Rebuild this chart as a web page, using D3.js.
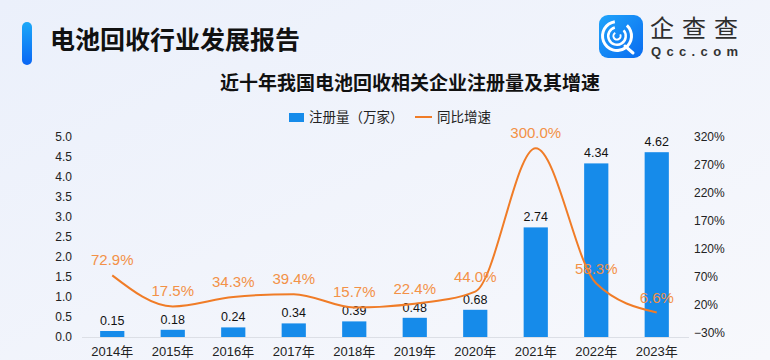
<!DOCTYPE html>
<html>
<head>
<meta charset="utf-8">
<script src="https://cdn.jsdelivr.net/npm/d3@7"></script>
<style>
  html, body { margin: 0; padding: 0; }
  body { width: 770px; height: 360px; overflow: hidden; }
  text { font-family: "Liberation Sans", "Noto Sans CJK SC", sans-serif; }
  .cjk { font-family: "Noto Sans CJK SC", sans-serif; }
</style>
</head>
<body>
<div id="chart"></div>
<script>
/********************* data *********************/
var years = ["2014年", "2015年", "2016年", "2017年", "2018年", "2019年", "2020年", "2021年", "2022年", "2023年"];
var regCount = [0.15, 0.18, 0.24, 0.34, 0.39, 0.48, 0.68, 2.74, 4.34, 4.62];   // 万家
var growth = [72.9, 17.5, 34.3, 39.4, 15.7, 22.4, 44.0, 300.0, 58.3, 6.6];      // %
var leftTicks = [0, 0.5, 1, 1.5, 2, 2.5, 3, 3.5, 4, 4.5, 5];
var rightTicks = [-30, 20, 70, 120, 170, 220, 270, 320];

var W = 770, H = 360;

var svg = d3.select("#chart").append("svg")
    .attr("width", W)
    .attr("height", H);

var defs = svg.append("defs");

var bg = defs.append("linearGradient").attr("id", "bg")
    .attr("x1", "0").attr("y1", "0").attr("x2", "1").attr("y2", "1");
bg.append("stop").attr("offset", "0").attr("stop-color", "#ebf0fb");
bg.append("stop").attr("offset", "1").attr("stop-color", "#f7f8fc");

var pill = defs.append("linearGradient").attr("id", "pill")
    .attr("x1", "0").attr("y1", "0").attr("x2", "0").attr("y2", "1");
pill.append("stop").attr("offset", "0").attr("stop-color", "#1ca8f8");
pill.append("stop").attr("offset", "1").attr("stop-color", "#0a66f4");

var logoG = defs.append("linearGradient").attr("id", "logo")
    .attr("x1", "0").attr("y1", "0").attr("x2", "1").attr("y2", "1");
logoG.append("stop").attr("offset", "0").attr("stop-color", "#20a4fa");
logoG.append("stop").attr("offset", "1").attr("stop-color", "#0a6cf0");

svg.append("rect").attr("width", W).attr("height", H).attr("fill", "url(#bg)");

/********************* header *********************/
svg.append("rect")
    .attr("x", 22).attr("y", 22).attr("width", 10).attr("height", 43).attr("rx", 5)
    .attr("fill", "url(#pill)");

svg.append("text").attr("class", "cjk")
    .attr("x", 50).attr("y", 49)
    .attr("font-size", 25).attr("font-weight", 700).attr("fill", "#111")
    .text("电池回收行业发展报告");

// logo
var logo = svg.append("g");
logo.append("rect")
    .attr("x", 599).attr("y", 15).attr("width", 44).attr("height", 43).attr("rx", 9)
    .attr("fill", "url(#logo)");
var arc = d3.arc();
var cx = 617, cy = 36;
[[13, 16, 0.75], [7.5, 10, 0.85], [2.6, 4.6, 1.1]].forEach(function(r) {
  logo.append("path")
      .attr("transform", "translate(" + cx + "," + cy + ")")
      .attr("d", arc({innerRadius: r[0], outerRadius: r[1],
                      startAngle: r[2], endAngle: 2 * Math.PI - r[2] + 0.6}))
      .attr("fill", "#fff");
});
logo.append("line")
    .attr("x1", cx + 8).attr("y1", cy + 10).attr("x2", cx + 16).attr("y2", cy + 17)
    .attr("stroke", "#fff").attr("stroke-width", 3).attr("stroke-linecap", "round");

logo.append("text").attr("class", "cjk")
    .attr("x", 650).attr("y", 37)
    .attr("font-size", 24).attr("font-weight", 400).attr("fill", "#2e2e2e")
    .attr("textLength", 88)
    .text("企查查");
logo.append("text")
    .attr("x", 651).attr("y", 56)
    .attr("font-size", 13).attr("font-weight", 700).attr("fill", "#333")
    .attr("textLength", 87)
    .text("Qcc.com");

svg.append("text").attr("class", "cjk")
    .attr("x", 410).attr("y", 90)
    .attr("text-anchor", "middle")
    .attr("font-size", 19).attr("font-weight", 700).attr("fill", "#111")
    .text("近十年我国电池回收相关企业注册量及其增速");

// legend
var legend = svg.append("g").attr("class", "cjk");
legend.append("rect").attr("x", 289).attr("y", 113).attr("width", 15).attr("height", 9).attr("fill", "#168bea");
legend.append("text").attr("class", "cjk").attr("x", 309).attr("y", 122)
    .attr("font-size", 13.5).attr("fill", "#222").text("注册量（万家）");
legend.append("line").attr("x1", 415).attr("x2", 432).attr("y1", 117).attr("y2", 117)
    .attr("stroke", "#f07c27").attr("stroke-width", 2);
legend.append("text").attr("class", "cjk").attr("x", 437).attr("y", 122)
    .attr("font-size", 13.5).attr("fill", "#222").text("同比增速");

/********************* scales *********************/
var x = d3.scaleBand().domain(years).range([82, 687]).paddingInner(0.6).paddingOuter(0.3);
var y = d3.scaleLinear().domain([0, 5]).range([337, 137]);
var y2 = d3.scaleLinear().domain([-30, 320]).range([333, 137]);

function cxOf(i) { return x(years[i]) + x.bandwidth() / 2; }

// axes
svg.append("line")
    .attr("x1", 82).attr("x2", 689).attr("y1", y(0) + 0.5).attr("y2", y(0) + 0.5)
    .attr("stroke", "#dcdfe6");

var xAxis = svg.append("g")
    .attr("transform", "translate(0," + (y(0) + 4) + ")")
    .call(d3.axisBottom(x).tickSize(0).tickPadding(6));
xAxis.select(".domain").remove();
xAxis.selectAll("text").attr("font-size", 13).attr("fill", "#222")
    .style("font-family", '"Liberation Sans", "Noto Sans CJK SC", sans-serif');

var yAxis = svg.append("g")
    .attr("transform", "translate(74,0)")
    .call(d3.axisLeft(y).tickValues(leftTicks).tickFormat(d3.format(".1f")).tickSize(0).tickPadding(2));
yAxis.select(".domain").remove();
yAxis.selectAll("text").attr("font-size", 12).attr("fill", "#222")
    .style("font-family", '"Liberation Sans", sans-serif');

var y2Axis = svg.append("g")
    .attr("transform", "translate(692,0)")
    .call(d3.axisRight(y2).tickValues(rightTicks).tickFormat(function(d) { return d3.format("d")(d) + "%"; })
      .tickSize(0).tickPadding(2));
y2Axis.select(".domain").remove();
y2Axis.selectAll("text").attr("font-size", 12).attr("fill", "#222")
    .style("font-family", '"Liberation Sans", sans-serif');

/********************* bars *********************/
svg.append("g").selectAll("rect")
    .data(regCount)
  .enter().append("rect")
    .attr("x", function(d, i) { return x(years[i]); })
    .attr("y", function(d) { return y(d); })
    .attr("width", x.bandwidth())
    .attr("height", function(d) { return y(0) - y(d); })
    .attr("fill", "#168bea");

svg.append("g").selectAll("text")
    .data(regCount)
  .enter().append("text")
    .attr("x", function(d, i) { return cxOf(i); })
    .attr("y", function(d) { return y(d) - 6; })
    .attr("text-anchor", "middle")
    .attr("font-size", 12.5)
    .attr("fill", "#111")
    .text(function(d) { return d3.format(".2f")(d); });

/********************* line *********************/
var line = d3.line()
    .x(function(d, i) { return cxOf(i); })
    .y(function(d) { return y2(d); })
    .curve(d3.curveMonotoneX);

svg.append("path")
    .datum(growth)
    .attr("d", line)
    .attr("fill", "none")
    .attr("stroke", "#f07c27")
    .attr("stroke-width", 2);

svg.append("g").selectAll("text")
    .data(growth)
  .enter().append("text")
    .attr("x", function(d, i) { return cxOf(i); })
    .attr("y", function(d) { return y2(d) - 10; })
    .attr("text-anchor", "middle")
    .attr("font-size", 15)
    .attr("fill", "#f39147")
    .text(function(d) { return d3.format(".1f")(d) + "%"; });
</script>
</body>
</html>
